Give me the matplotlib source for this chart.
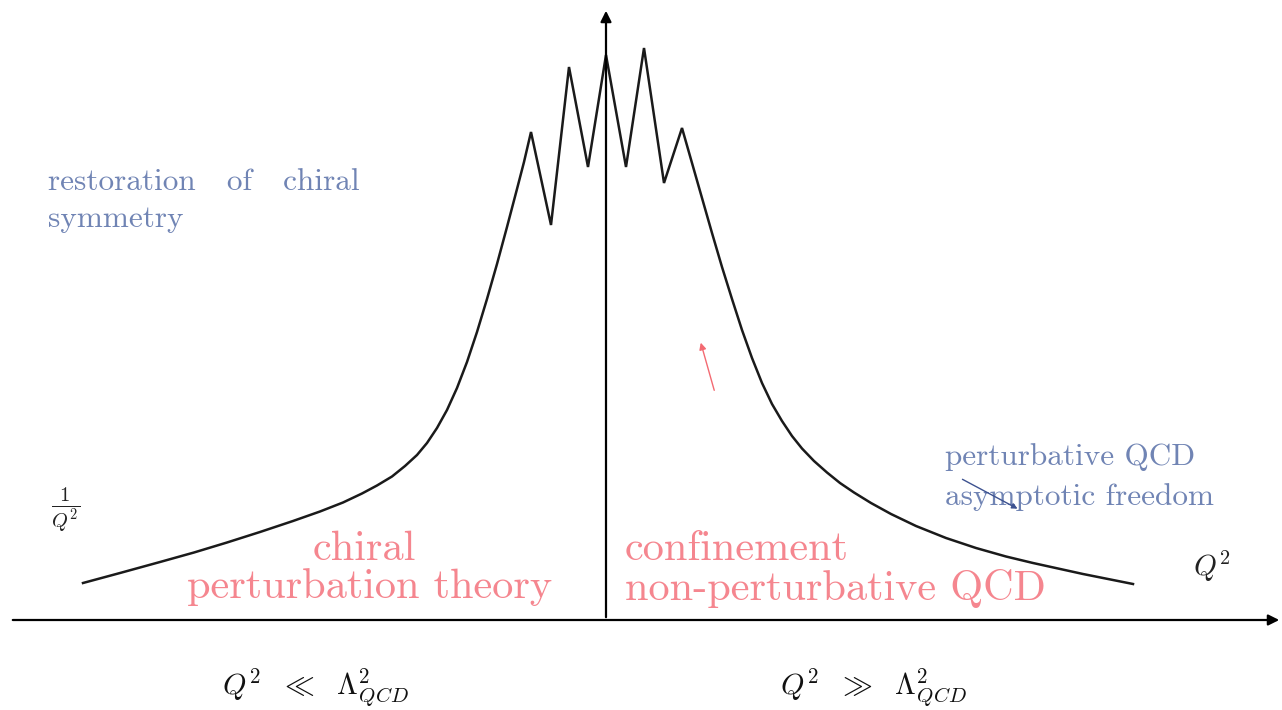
import matplotlib
matplotlib.use('Agg')
import matplotlib.pyplot as plt

left_x = [-523, -486, -446, -412, -379, -346, -313, -286, -263, -244, -229, -214, -201,
          -189, -179, -169, -159, -149, -139, -129, -119, -109, -99, -89, -82]
left_y = [37, 47, 58, 67.5, 77.5, 88, 99, 108.5, 117.5, 126.5, 134.5, 143.5, 154,
          165, 177, 192, 210, 232, 258, 288, 321, 356, 393, 431, 458]

zig_x = [-75, -55, -37, -18, 0, 20, 38, 58, 76]
zig_y = [488, 395, 553, 453, 565, 453, 572, 437, 492]

right_x = [86, 96, 106, 116, 126, 136, 146, 156, 166, 176, 186, 196, 208,
           221, 234, 248, 265, 285, 310, 340, 370, 400, 427, 477, 527]
right_y = [457, 422, 387, 353, 321, 290, 262, 237, 216, 199, 184, 171.5, 159,
           147.5, 137, 127.5, 117, 106, 94, 82, 72, 63.5, 57, 46, 36]

curve_x = left_x + zig_x + right_x
curve_y = left_y + zig_y + right_y

pink = '#f5868f'
blue = '#7084b4'

plt.rcParams['font.family'] = 'cmr10'
plt.rcParams['mathtext.fontset'] = 'cm'
plt.rcParams['axes.unicode_minus'] = False

fig = plt.figure(figsize=(12.82, 7.10), dpi=100)
ax = fig.add_axes([0, 0, 1, 1])
ax.set_xlim(-606, 676)
ax.set_ylim(-90, 620)
ax.axis('off')

# axes with arrow heads
ax.annotate('', xy=(676, 0), xytext=(-596, 0),
            arrowprops=dict(arrowstyle='-|>', lw=1.6, color='black', mutation_scale=16))
ax.annotate('', xy=(0, 612), xytext=(0, 0),
            arrowprops=dict(arrowstyle='-|>', lw=1.6, color='black', mutation_scale=16))

ax.plot(curve_x, curve_y, color='#1a1a1a', lw=1.8, solid_joinstyle='miter')

# small red arrow
ax.annotate('', xy=(94, 280), xytext=(109, 227),
            arrowprops=dict(arrowstyle='-|>', lw=1.0, color='#f36a72', mutation_scale=10))

# blue texts
ax.text(-558, 430, 'restoration   of   chiral', color=blue, fontsize=22.5, va='baseline')
ax.text(-558, 393, 'symmetry', color=blue, fontsize=22.5, va='baseline')
ax.text(339, 155, 'perturbative QCD', color=blue, fontsize=22.5, va='baseline')
ax.text(339, 115, 'asymptotic freedom', color=blue, fontsize=22.5, va='baseline')
ax.annotate('', xy=(414, 110), xytext=(354, 142),
            arrowprops=dict(arrowstyle='-|>', lw=1.0, color='#3d5290', mutation_scale=8))

# pink texts
ax.text(-242, 60, 'chiral', color=pink, fontsize=30.5, ha='center', va='baseline')
ax.text(-236, 22, 'perturbation theory', color=pink, fontsize=30.5, ha='center', va='baseline')
ax.text(19, 60, 'confinement', color=pink, fontsize=30.5, va='baseline')
ax.text(19, 20, 'non-perturbative QCD', color=pink, fontsize=30.5, va='baseline')

# math labels
ax.text(-540, 110, r'$\frac{1}{Q^2}$', fontsize=21, ha='center', va='center', color='#222222')
ax.text(587, 44, r'$Q^2$', fontsize=21, va='baseline', color='#222222')
ax.text(-384, -75, r'$Q^2\ \ \ll\ \ \Lambda^2_{QCD}$', fontsize=21.5, va='baseline', color='#111111')
ax.text(174, -75, r'$Q^2\ \ \gg\ \ \Lambda^2_{QCD}$', fontsize=21.5, va='baseline', color='#111111')

fig.savefig('out.png', dpi=100)
